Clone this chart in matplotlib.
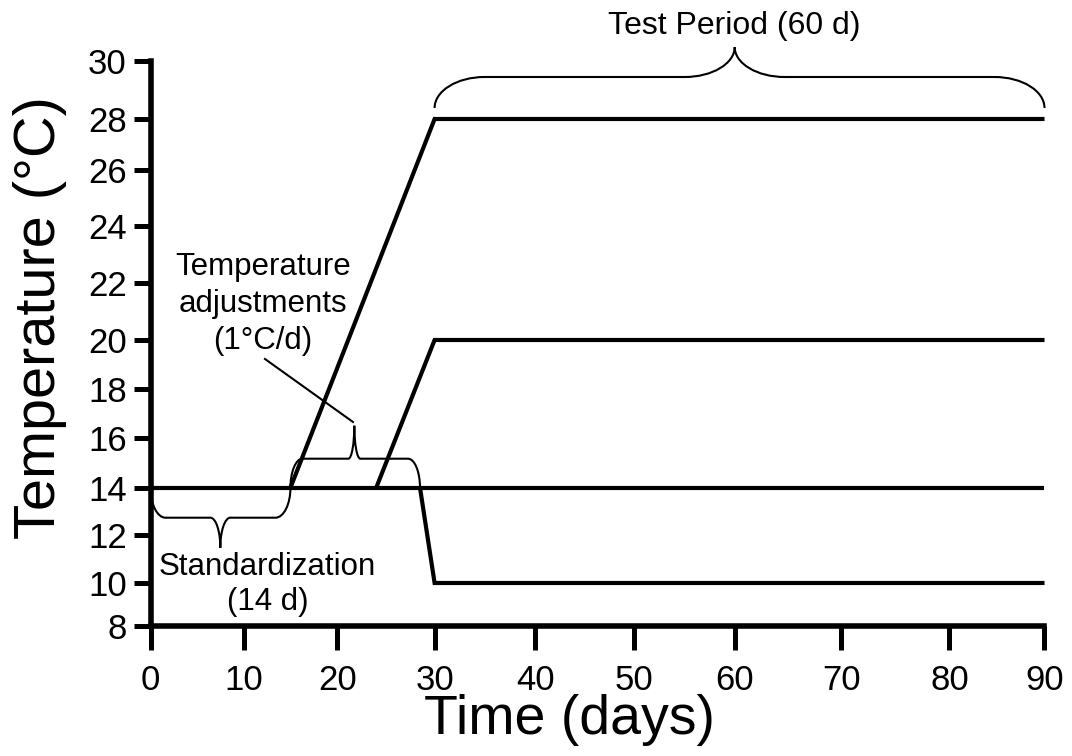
import numpy as np
import matplotlib
matplotlib.use("Agg")
import matplotlib.pyplot as plt
from matplotlib.path import Path
from matplotlib.patches import PathPatch
from matplotlib.transforms import IdentityTransform

# ---------------- data ----------------
control_days = [0, 90]
control_temp = [14, 14]
warm_days = [15, 30, 90]
warm_temp = [14, 28, 28]
mid_days = [24, 30, 90]
mid_temp = [14, 20, 20]
cold_days = [28.5, 30, 90]
cold_temp = [14, 10, 10]

x_ticks = [0, 10, 20, 30, 40, 50, 60, 70, 80, 90]
y_ticks = [8, 10, 12, 14, 16, 18, 20, 22, 24, 26, 28, 30]

standard_span = [0, 15]
adjust_span = [15, 28.5]
test_span = [30, 90]

label_test = "Test Period (60 d)"
label_adjust = "Temperature\nadjustments\n(1°C/d)"
label_standard = "Standardization\n(14 d)"

# ---------------- layout (pixel positions of ticks in the reference) -------
W, H = 1072, 756
x_tick_px = [150.5, 243.6, 337.3, 434.6, 535.4, 633.9, 734.7, 841.5, 949.4, 1044.5]
y_tick_px = [626, 583, 535, 487.7, 438, 389, 340, 283, 226, 170, 119, 60.5]


def make_interp(xp, fp):
    xp = np.asarray(xp, float)
    fp = np.asarray(fp, float)
    s0 = (fp[1] - fp[0]) / (xp[1] - xp[0])
    s1 = (fp[-1] - fp[-2]) / (xp[-1] - xp[-2])

    def f(v):
        v = np.asarray(v, float)
        out = np.interp(v, xp, fp)
        out = np.where(v < xp[0], fp[0] + (v - xp[0]) * s0, out)
        out = np.where(v > xp[-1], fp[-1] + (v - xp[-1]) * s1, out)
        return out
    return f


xs_fwd = make_interp(x_ticks, x_tick_px)
xs_inv = make_interp(x_tick_px, x_ticks)
y_neg = [-p for p in y_tick_px]
ys_fwd = make_interp(y_ticks, y_neg)
ys_inv = make_interp(y_neg, y_ticks)

plt.rcParams["font.family"] = ["Liberation Sans", "DejaVu Sans"]

fig = plt.figure(figsize=(W / 100, H / 100), dpi=100)
left = x_tick_px[0] / W
right = x_tick_px[-1] / W
bottom = (H - y_tick_px[0]) / H
top = (H - y_tick_px[-1]) / H
ax = fig.add_axes([left, bottom, right - left, top - bottom])

ax.set_xscale("function", functions=(xs_fwd, xs_inv))
ax.set_yscale("function", functions=(ys_fwd, ys_inv))
ax.set_xlim(0, 90)
ax.set_ylim(8, 30)

lw_data = 3.0
for d, t in [(control_days, control_temp), (warm_days, warm_temp),
             (mid_days, mid_temp), (cold_days, cold_temp)]:
    ax.plot(d, t, color="black", lw=lw_data, solid_capstyle="butt",
            solid_joinstyle="miter", clip_on=False)

ax.set_xticks(x_ticks, labels=[str(t) for t in x_ticks])
ax.set_yticks(y_ticks, labels=[str(t) for t in y_ticks])
ax.minorticks_off()
ax.tick_params(axis="both", direction="out", width=3.6, labelsize=25, color="black")
ax.tick_params(axis="x", length=17, pad=10)
ax.tick_params(axis="y", length=12, pad=5)

for s in ["top", "right"]:
    ax.spines[s].set_visible(False)
for s in ["left", "bottom"]:
    ax.spines[s].set_linewidth(4)
    ax.spines[s].set_capstyle("projecting")

axw = x_tick_px[-1] - x_tick_px[0]
axh = y_tick_px[0] - y_tick_px[-1]
ax.set_xlabel("Time (days)", fontsize=40)
ax.set_ylabel("Temperature (°C)", fontsize=41.5)
ax.xaxis.set_label_coords((570 - x_tick_px[0]) / axw, (y_tick_px[0] - 694) / axh)
ax.yaxis.set_label_coords((67 - x_tick_px[0]) / axw, (y_tick_px[0] - 318) / axh)


# ---------------- braces ----------------
def brace(x0, x1, y, up, h1, h2, r, r2, offset=0.0, lw=1.5):
    T = ax.transData
    X0, Ye = T.transform((x0, y))
    X1, _ = T.transform((x1, y))
    Xc = T.transform(((x0 + x1) / 2.0, y))[0]
    s = 1 if up else -1
    Ye = Ye + s * offset
    Ym = Ye + s * h1
    Yt = Ym + s * h2
    k = 0.552
    verts = [(X0, Ye), (X0, Ye + s * h1 * k), (X0 + r * (1 - k), Ym), (X0 + r, Ym),
             (Xc - r2, Ym),
             (Xc - r2 * (1 - k), Ym), (Xc, Ym + s * h2 * (1 - k)), (Xc, Yt),
             (Xc, Ym + s * h2 * (1 - k)), (Xc + r2 * (1 - k), Ym), (Xc + r2, Ym),
             (X1 - r, Ym),
             (X1 - r * (1 - k), Ym), (X1, Ye + s * h1 * k), (X1, Ye)]
    C = Path.CURVE4
    codes = [Path.MOVETO, C, C, C, Path.LINETO, C, C, C, C, C, C, Path.LINETO, C, C, C]
    patch = PathPatch(Path(verts, codes), transform=IdentityTransform(),
                      fill=False, lw=lw, ec="black", clip_on=False)
    fig.add_artist(patch)
    return Xc, Yt


brace(standard_span[0], standard_span[1], 14, False, 30, 30, 15, 10)
brace(adjust_span[0], adjust_span[1], 14, True, 29, 33, 12, 6)
brace(test_span[0], test_span[1], 28, True, 31, 30, 50, 50, offset=11)

# ---------------- texts ----------------
fs_ann = 22.5
ax.text(60, float(ys_inv(-34)), label_test, ha="center", va="baseline",
        fontsize=23, clip_on=False)
ax.text(float(xs_inv(263)), float(ys_inv(-252)), label_adjust, ha="center",
        va="top", fontsize=fs_ann, linespacing=1.3, multialignment="center")
ax.text(float(xs_inv(267.5)), float(ys_inv(-552)), label_standard, ha="center",
        va="top", fontsize=fs_ann, linespacing=1.22, multialignment="center")
ax.plot([float(xs_inv(265)), float(xs_inv(353))],
        [float(ys_inv(-359)), float(ys_inv(-422))], color="black", lw=1.5,
        clip_on=False)

fig.savefig("out.png", dpi=100)
